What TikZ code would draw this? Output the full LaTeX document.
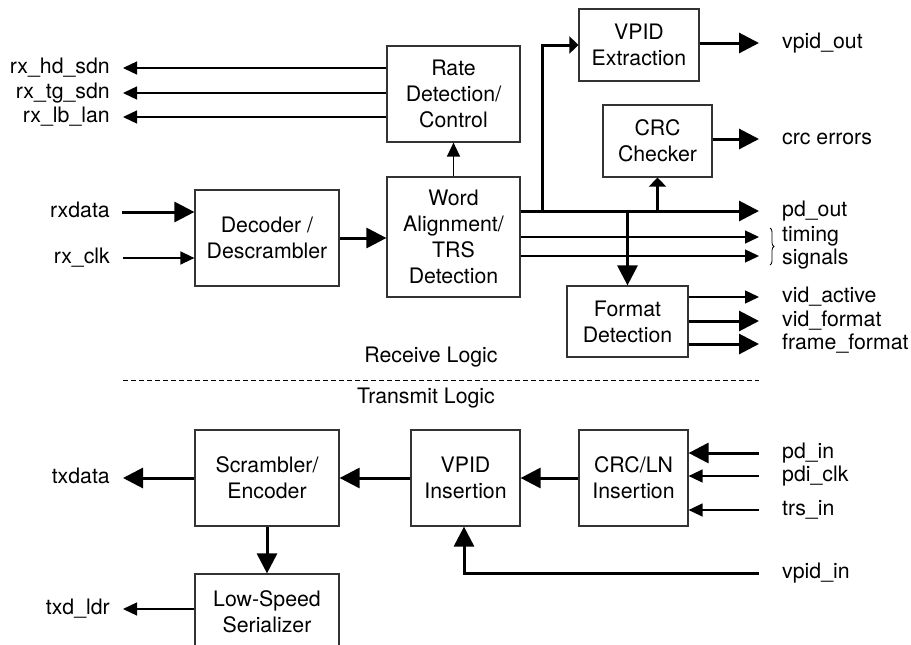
\documentclass[tikz,border=0pt]{standalone}
\usepackage{fontspec}
\setmainfont{TeX Gyre Heros}
\usetikzlibrary{arrows.meta,decorations.pathreplacing}

\begin{document}
\begin{tikzpicture}[x=1pt,y=-1pt,
	every node/.style={font=\fontsize{21.3}{26}\selectfont},
	blk/.style={draw=black!80,line width=1.2pt,align=center,inner sep=0pt},
	lbl/.style={inner sep=0pt,text height=11pt,text depth=0pt},
	sig/.style={line width=1.3pt,-{Triangle[length=14pt,width=13pt]}},
	bus/.style={line width=3pt,-{Triangle[length=20pt,width=20pt]}},
	tap/.style={line width=3pt,-{Triangle[length=9pt,width=17pt]}}]
\clip (0,0) rectangle (911,645);
\fill[white] (0,0) rectangle (911,645);

% receive side blocks
\node[blk,minimum width=133pt,minimum height=96pt] (rate) at (453.5,94) {Rate\\Detection/\\Control};
\node[blk,minimum width=133pt,minimum height=120pt] (word) at (453.5,237) {Word\\Alignment/\\TRS\\Detection};
\node[blk,minimum width=144pt,minimum height=96pt] (dec) at (267,238) {Decoder /\\Descrambler};
\node[blk,minimum width=120pt,minimum height=72pt] (vext) at (639,45) {VPID\\Extraction};
\node[blk,minimum width=109pt,minimum height=72pt] (crc) at (657.5,141) {CRC\\Checker};
\node[blk,minimum width=121pt,minimum height=71pt] (fmt) at (627.5,321.5) {Format\\Detection};

% transmit side blocks
\node[blk,minimum width=144pt,minimum height=96pt] (scr) at (267,478) {Scrambler/\\Encoder};
\node[blk,minimum width=144pt,minimum height=76pt] (lss) at (267,612) {Low-Speed\\Serializer};
\node[blk,minimum width=109pt,minimum height=96pt] (vins) at (465.5,478) {VPID\\Insertion};
\node[blk,minimum width=109pt,minimum height=96pt] (crcln) at (633.5,478) {CRC/LN\\Insertion};

% left labels
\node[lbl,anchor=east] (rxhd) at (110,68) {rx\_hd\_sdn};
\node[lbl,anchor=east] (rxtg) at (110,93) {rx\_tg\_sdn};
\node[lbl,anchor=east] (rxlb) at (110,117) {rx\_lb\_lan};
\node[lbl,anchor=east] (rxdata) at (110,212) {rxdata};
\node[lbl,anchor=east] (rxclk) at (110,258) {rx\_clk};
\node[lbl,anchor=east] (txdata) at (110,478) {txdata};
\node[lbl,anchor=east] (txdldr) at (110,609) {txd\_ldr};

% right labels
\node[lbl,anchor=west] (vpidout) at (782,43) {vpid\_out};
\node[lbl,anchor=west] (crcerr) at (782,139) {crc errors};
\node[lbl,anchor=west] (pdout) at (782,211) {pd\_out};
\node[lbl,anchor=west] (timing) at (782,236) {timing};
\node[lbl,anchor=west] (signals) at (782,259) {signals};
\node[lbl,anchor=west] (vidact) at (782,297) {vid\_active};
\node[lbl,anchor=west] (vidfmt) at (782,321) {vid\_format};
\node[lbl,anchor=west] (frmfmt) at (782,344) {frame\_format};
\node[lbl,anchor=west] (pdin) at (782,453) {pd\_in};
\node[lbl,anchor=west] (pdiclk) at (782,476) {pdi\_clk};
\node[lbl,anchor=west] (trsin) at (782,510) {trs\_in};
\node[lbl,anchor=west] (vpidin) at (782,573) {vpid\_in};

% section labels
\node[lbl] (rxlogic) at (431,357) {Receive Logic};
\node[lbl] (txlogic) at (426,398) {Transmit Logic};
\coordinate (dashl) at (123,380);
\coordinate (dashr) at (759,380);
\draw[line width=1pt,dash pattern=on 5pt off 3pt] (dashl) -- (dashr);

% receive connectors
\draw[sig] (rate.west |- rxhd) -- ([xshift=13pt]rxhd.east);
\draw[sig] (rate.west |- rxtg) -- ([xshift=13pt]rxtg.east);
\draw[sig] (rate.west |- rxlb) -- ([xshift=13pt]rxlb.east);
\draw[sig] (word.north) -- (rate.south);
\draw[bus] ([xshift=12pt]rxdata.east) -- (dec.west |- rxdata);
\draw[sig] ([xshift=13pt]rxclk.east) -- (dec.west |- rxclk);
\draw[bus] (dec.east) -- (word.west |- dec.east);

\coordinate (vtap) at (542,211);
\draw[bus] (word.east |- pdout) -- ([xshift=-23pt]pdout.west);
\draw[tap] (vtap) |- (vext.west);
\draw[tap] (crc.south |- pdout) -- (crc.south);
\draw[bus] (fmt.north |- pdout) -- (fmt.north);
\draw[sig] (word.east |- timing) ++(0,1) -- ([xshift=-23pt,yshift=-1pt]timing.west);
\draw[sig] (word.east |- signals) ++(0,-3) -- ([xshift=-23pt,yshift=3pt]signals.west);
\coordinate (brtop) at (770,228);
\coordinate (brbot) at (770,265);
\draw[line width=0.8pt,decorate,decoration={brace,amplitude=4pt}] (brtop) -- (brbot);

\draw[bus] (vext.east |- vpidout) -- ([xshift=-23pt]vpidout.west);
\draw[bus] (crc.east |- crcerr) -- ([xshift=-23pt]crcerr.west);
\draw[sig] (fmt.east |- vidact) -- ([xshift=-23pt]vidact.west);
\draw[bus] (fmt.east |- vidfmt) -- ([xshift=-23pt]vidfmt.west);
\draw[bus] (fmt.east |- frmfmt) -- ([xshift=-23pt]frmfmt.west);

% transmit connectors
\draw[bus] ([xshift=-23pt]pdin.west) -- (crcln.east |- pdin);
\draw[sig] ([xshift=-23pt]pdiclk.west) -- (crcln.east |- pdiclk);
\draw[sig] ([xshift=-23pt]trsin.west) -- (crcln.east |- trsin);
\draw[bus] (crcln.west) -- (vins.east);
\draw[bus] (vins.west) -- (scr.east);
\draw[bus] (scr.west) -- ([xshift=13pt]txdata.east |- scr.west);
\draw[bus] (scr.south) -- (lss.north);
\draw[sig] (lss.west |- txdldr) -- ([xshift=13pt]txdldr.east);
\draw[bus] ([xshift=-23pt]vpidin.west) -| ([xshift=-1.5pt]vins.south);
\end{tikzpicture}
\end{document}
